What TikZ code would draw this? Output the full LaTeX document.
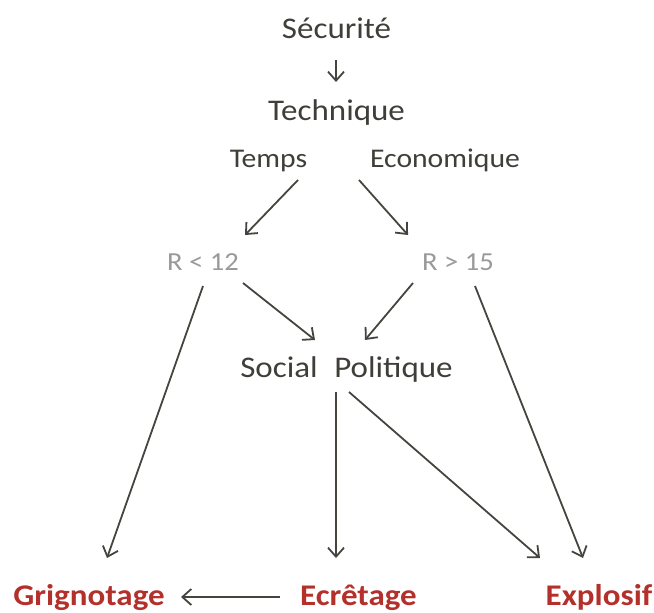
\documentclass[tikz,border=0pt]{standalone}
\usepackage{fontspec}
\setmainfont{Carlito}[FakeStretch=1.1]
\usetikzlibrary{arrows.meta}
\definecolor{txt}{HTML}{3F3E38}
\definecolor{gr}{HTML}{999999}
\definecolor{rd}{HTML}{B3302B}
\definecolor{ln}{HTML}{45453F}
\tikzset{
  lbl/.style={anchor=base, inner sep=0pt, text=txt, font=\fontsize{30}{36}\selectfont},
  sml/.style={anchor=base, inner sep=0pt, text=txt, font=\fontsize{27}{32}\selectfont},
  rlbl/.style={anchor=base, inner sep=0pt, text=gr, font=\fontsize{26}{31}\selectfont},
  res/.style={anchor=base, inner sep=0pt, text=rd, font=\fontsize{30}{36}\selectfont\bfseries},
  arr/.style={draw=ln, line width=1.8pt, -{Straight Barb[length=9pt,width=16pt,line width=1.8pt]}}
}
\begin{document}
\begin{tikzpicture}[x=1pt,y=-1pt]
\useasboundingbox (0,0) rectangle (654,613);
\node[lbl] (sec) at (336.5,38) {Sécurité};
\node[lbl] (tech) at (336.5,120) {Technique};
\node[sml] (temps) at (268.5,167) {Temps};
\node[sml] (eco) at (445,167) {Economique};
\node[rlbl] (r12) at (203,270) {R < 12};
\node[rlbl] (r15) at (458,270) {R > 15};
\node[lbl] (social) at (279,377) {Social};
\node[lbl] (pol) at (393.5,377) {Politique};
\node[res] (grig) at (89,605) {Grignotage};
\node[res] (ecr) at (358.5,605) {Ecrêtage};
\node[res] (expl) at (599,605) {Explosif};

\draw[arr] ([shift={(-0.5,22)}]sec.base) -- ([shift={(-0.5,-38)}]tech.base);
\draw[arr] ([shift={(29.5,13)}]temps.base) -- ([shift={(42,-35)}]r12.base);
\draw[arr] ([shift={(-86,13)}]eco.base) -- ([shift={(-50,-35)}]r15.base);
\draw[arr] ([shift={(40,13)}]r12.base) -- ([shift={(36,-37)}]social.base);
\draw[arr] ([shift={(-45,13)}]r15.base) -- ([shift={(-28.5,-37)}]pol.base);
\draw[arr] ([shift={(0,16)}]r12.base) -- ([shift={(18,-47)}]grig.base);
\draw[arr] ([shift={(17,16)}]r15.base) -- ([shift={(-16,-47)}]expl.base);
\draw[arr] ([shift={(-57.5,15)}]pol.base) -- ([shift={(-22.5,-47)}]ecr.base);
\draw[arr] ([shift={(-44.5,15)}]pol.base) -- ([shift={(-59,-47)}]expl.base);
\draw[arr] ([shift={(-78.5,-8)}]ecr.base) -- ([shift={(92,-8)}]grig.base);
\end{tikzpicture}
\end{document}
